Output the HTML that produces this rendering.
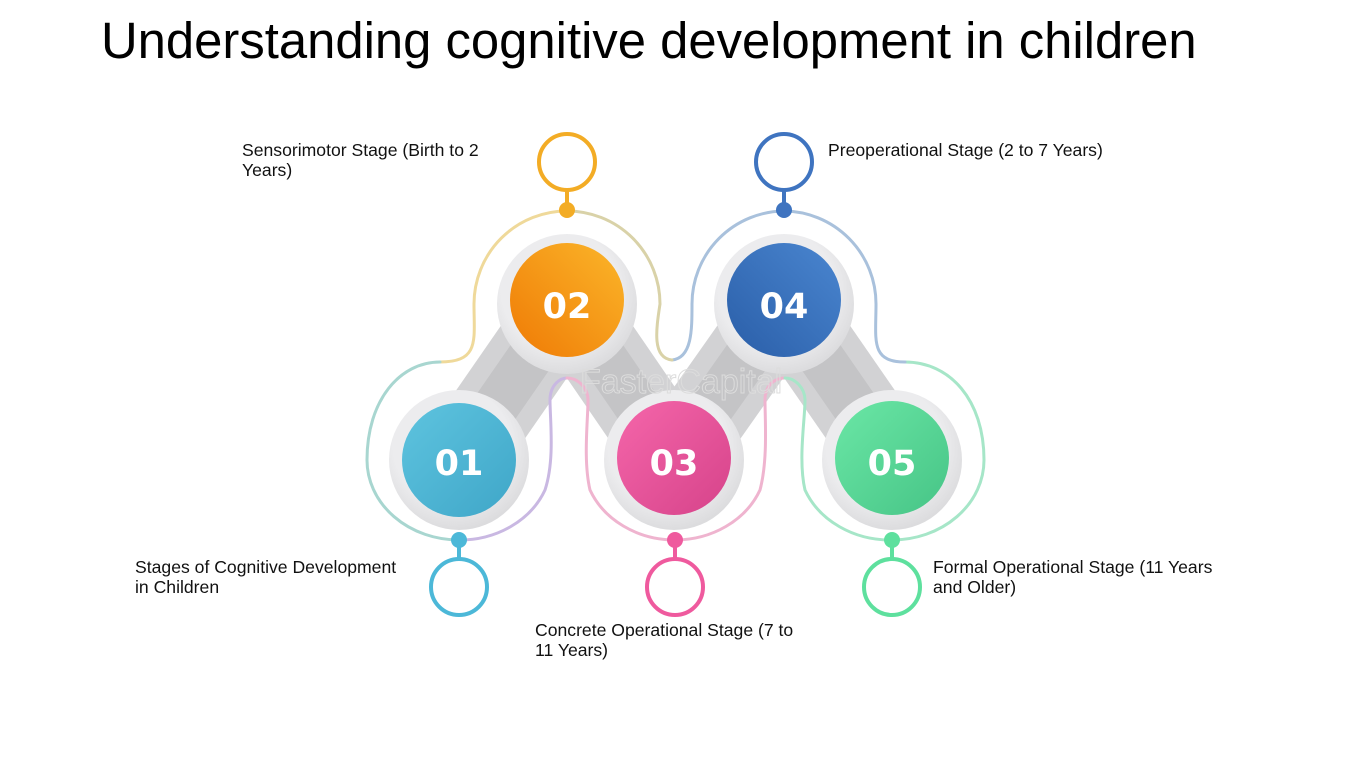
<!DOCTYPE html>
<html><head><meta charset="utf-8"><style>
html,body{margin:0;padding:0;background:#fff;}
svg{display:block;}
</style></head><body>
<svg width="1350" height="759" viewBox="0 0 1350 759" xmlns="http://www.w3.org/2000/svg">
<defs>
<linearGradient id="g1" x1="0" y1="0" x2="1" y2="1"><stop offset="0" stop-color="#5ec4df"/><stop offset="1" stop-color="#3fa6c8"/></linearGradient>
<linearGradient id="g2" x1="1" y1="0" x2="0" y2="1"><stop offset="0" stop-color="#fbb62a"/><stop offset="1" stop-color="#ef7a05"/></linearGradient>
<linearGradient id="g3" x1="0" y1="0" x2="1" y2="1"><stop offset="0" stop-color="#f566aa"/><stop offset="1" stop-color="#d6438a"/></linearGradient>
<linearGradient id="g4" x1="1" y1="0" x2="0" y2="1"><stop offset="0" stop-color="#4a86d0"/><stop offset="1" stop-color="#2a5ea8"/></linearGradient>
<linearGradient id="g5" x1="0" y1="0" x2="1" y2="1"><stop offset="0" stop-color="#6be7a6"/><stop offset="1" stop-color="#46c486"/></linearGradient>
<radialGradient id="ring" cx="0.45" cy="0.4" r="0.6"><stop offset="0.7" stop-color="#ececee"/><stop offset="1" stop-color="#dcdcde"/></radialGradient>
</defs>

<text x="101" y="58" font-family="Liberation Sans, Arial, sans-serif" font-size="50.8" fill="#000">Understanding cognitive development in children</text>

<!-- gray bridges -->
<g stroke="#d2d2d4" stroke-width="84" stroke-linecap="butt">
<line x1="459" y1="460" x2="567" y2="304"/>
<line x1="567" y1="304" x2="674" y2="460"/>
<line x1="674" y1="460" x2="784" y2="304"/>
<line x1="784" y1="304" x2="892" y2="460"/>
</g>
<g stroke="#c4c4c6" stroke-width="46" stroke-linecap="butt">
<line x1="459" y1="460" x2="567" y2="304"/>
<line x1="567" y1="304" x2="674" y2="460"/>
<line x1="674" y1="460" x2="784" y2="304"/>
<line x1="784" y1="304" x2="892" y2="460"/>
</g>

<!-- outline -->
<g fill="none" stroke-width="3" stroke-linecap="round">
<path d="M 567 211 A 93 93 0 0 0 474 304 C 474 340, 480 362, 440 362" stroke="#efd99a"/>
<path d="M 440 362 C 400 362, 367 400, 367 460 A 92 80 0 0 0 459 540" stroke="#a8d6d0"/>
<path d="M 459 540 A 92 80 0 0 0 545 490 C 555 460, 550 420, 550 400 C 550 385, 560 378, 567 378" stroke="#c9b8e2"/>
<path d="M 567 378 C 578 378, 588 388, 588 400 C 588 420, 583 460, 590 490 A 92 80 0 0 0 674 540 A 92 80 0 0 0 760 490 C 768 460, 765 420, 765 400 C 765 385, 775 378, 785 378" stroke="#efb4cf"/>
<path d="M 785 378 C 795 378, 805 388, 805 400 C 805 420, 798 460, 805 490 A 92 80 0 0 0 892 540 A 92 80 0 0 0 984 460 C 984 400, 950 362, 905 362" stroke="#a6e6c8"/>
<path d="M 905 362 C 870 362, 876 340, 876 304 A 93 93 0 0 0 784 211 A 93 93 0 0 0 692 304 C 692 330, 692 358, 672 360" stroke="#a9c1dc"/>
<path d="M 672 360 C 652 358, 656 330, 660 304 A 93 93 0 0 0 567 211" stroke="#d9d2a8"/>
</g>

<!-- rings -->
<g fill="url(#ring)">
<circle cx="459" cy="460" r="70"/>
<circle cx="567" cy="304" r="70"/>
<circle cx="674" cy="460" r="70"/>
<circle cx="784" cy="304" r="70"/>
<circle cx="892" cy="460" r="70"/>
</g>
<circle cx="459" cy="460" r="57" fill="url(#g1)"/>
<circle cx="567" cy="300" r="57" fill="url(#g2)"/>
<circle cx="674" cy="458" r="57" fill="url(#g3)"/>
<circle cx="784" cy="300" r="57" fill="url(#g4)"/>
<circle cx="892" cy="458" r="57" fill="url(#g5)"/>
<g font-family="DejaVu Sans, Liberation Sans, sans-serif" font-weight="bold" font-size="35" fill="#fff" text-anchor="middle">
<text x="459" y="475">01</text>
<text x="567" y="318">02</text>
<text x="674" y="475">03</text>
<text x="784" y="318">04</text>
<text x="892" y="475">05</text>
</g>

<!-- pins -->
<g fill="none" stroke-width="4">
<circle cx="567" cy="162" r="28" stroke="#f3ac25"/>
<line x1="567" y1="190" x2="567" y2="210" stroke="#f3ac25"/>
<circle cx="784" cy="162" r="28" stroke="#3f74c0"/>
<line x1="784" y1="190" x2="784" y2="210" stroke="#3f74c0"/>
<circle cx="459" cy="587" r="28" stroke="#4cb8d8"/>
<line x1="459" y1="540" x2="459" y2="559" stroke="#4cb8d8"/>
<circle cx="675" cy="587" r="28" stroke="#ef5a9e"/>
<line x1="675" y1="540" x2="675" y2="559" stroke="#ef5a9e"/>
<circle cx="892" cy="587" r="28" stroke="#5ee09e"/>
<line x1="892" y1="540" x2="892" y2="559" stroke="#5ee09e"/>
</g>
<circle cx="567" cy="210" r="8" fill="#f3ac25"/>
<circle cx="784" cy="210" r="8" fill="#3f74c0"/>
<circle cx="459" cy="540" r="8" fill="#4cb8d8"/>
<circle cx="675" cy="540" r="8" fill="#ef5a9e"/>
<circle cx="892" cy="540" r="8" fill="#5ee09e"/>

<text x="580" y="393" font-family="Liberation Sans, sans-serif" font-size="34" fill="none" stroke="#dcdcdc" stroke-width="1">FasterCapital</text>

<g font-family="Liberation Sans, DejaVu Sans, sans-serif" font-size="17.6" fill="#111">
<text x="242" y="156">Sensorimotor Stage (Birth to 2</text>
<text x="242" y="176">Years)</text>
<text x="828" y="156">Preoperational Stage (2 to 7 Years)</text>
<text x="135" y="573">Stages of Cognitive Development</text>
<text x="135" y="593">in Children</text>
<text x="535" y="636">Concrete Operational Stage (7 to</text>
<text x="535" y="656">11 Years)</text>
<text x="933" y="573">Formal Operational Stage (11 Years</text>
<text x="933" y="593">and Older)</text>
</g>
</svg>
</body></html>
